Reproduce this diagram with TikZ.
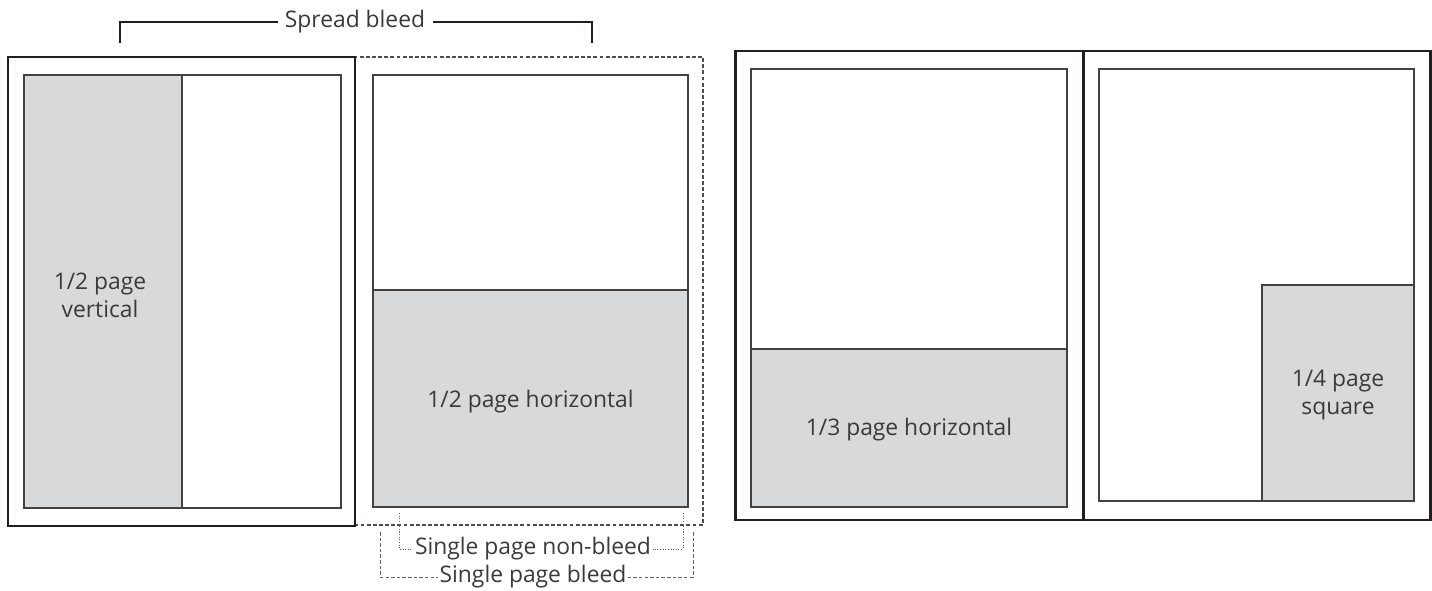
\documentclass[tikz,border=0pt]{standalone}
\usepackage{fontspec}
\setmainfont{Open Sans}
\usetikzlibrary{positioning,calc}
\definecolor{adgray}{HTML}{D8D9DB}
\definecolor{inkline}{HTML}{231F20}
\definecolor{inktext}{HTML}{3A3A3A}
\tikzset{
  trim/.style={draw=inkline, line width=1.7pt},
  safe/.style={draw=inkline!85, line width=0.75pt},
  ad/.style={fill=adgray, draw=inkline!85, line width=0.75pt},
  bleed/.style={draw=inkline!80, line width=0.7pt, dash pattern=on 2.2pt off 1.3pt},
  adlabel/.style={font=\fontsize{13}{16}\selectfont, text=inktext, align=center, inner sep=1pt},
  spreadmark/.style={draw=inkline, line width=1.1pt},
  nonbleedmark/.style={draw=inkline!70, line width=0.5pt, dash pattern=on 0.6pt off 0.9pt},
  bleedmark/.style={draw=inkline!70, line width=0.5pt, dash pattern=on 2pt off 1.2pt}
}

\begin{document}
\begin{tikzpicture}[x=0.02cm,y=-0.02cm]
        \useasboundingbox (0,0) rectangle (1432,591);

        % Left spread, left page
        \draw[ad] (24,75) rectangle (182,508);
        \draw[safe] (24,75) rectangle (341,508);
        \node[adlabel] (halfvert) at (100,295) {1/2 page\\vertical};

        % Left spread, right page
        \draw[bleed] (355,57) rectangle (703,525);
        \draw[ad] (373,290) rectangle (688,507);
        \draw[safe] (373,75) rectangle (688,507);
        \node[adlabel] (halfhoriz) at (530.5,402) {1/2 page horizontal};
        \draw[trim] (8,57) rectangle (355,526);

        % Spread bleed mark
        \node[adlabel, inner xsep=4pt] (spread) at (355,22) {Spread bleed};
        \coordinate (spread-l) at (120,43);
        \coordinate (spread-r) at (592,43);
        \draw[spreadmark] (spread-l) |- (spread.west);
        \draw[spreadmark] (spread-r) |- (spread.east);

        % Single page marks
        \node[adlabel] (nonbleed) at (533,549) {Single page non-bleed};
        \coordinate (nonbleed-l) at (399,513);
        \coordinate (nonbleed-r) at (683,513);
        \draw[nonbleedmark] (nonbleed-l) |- (nonbleed.west);
        \draw[nonbleedmark] (nonbleed-r) |- (nonbleed.east);

        \node[adlabel] (single) at (533,577) {Single page bleed};
        \coordinate (single-l) at (380,532);
        \coordinate (single-r) at (693,532);
        \draw[bleedmark] (single-l) |- (single.west);
        \draw[bleedmark] (single-r) |- (single.east);

        % Right spread
        \draw[ad] (751,349) rectangle (1067,507);
        \draw[safe] (751,69) rectangle (1067,507);
        \node[adlabel] (thirdhoriz) at (909,430) {1/3 page horizontal};

        \draw[ad] (1262,285) rectangle (1414,501);
        \draw[safe] (1099,69) rectangle (1414,501);
        \node[adlabel] (quarter) at (1338,395) {1/4 page\\square};

        \draw[trim] (735,51) rectangle (1430,520);
        \draw[trim] (1083,51) -- (1083,520);

      \end{tikzpicture}
\end{document}
